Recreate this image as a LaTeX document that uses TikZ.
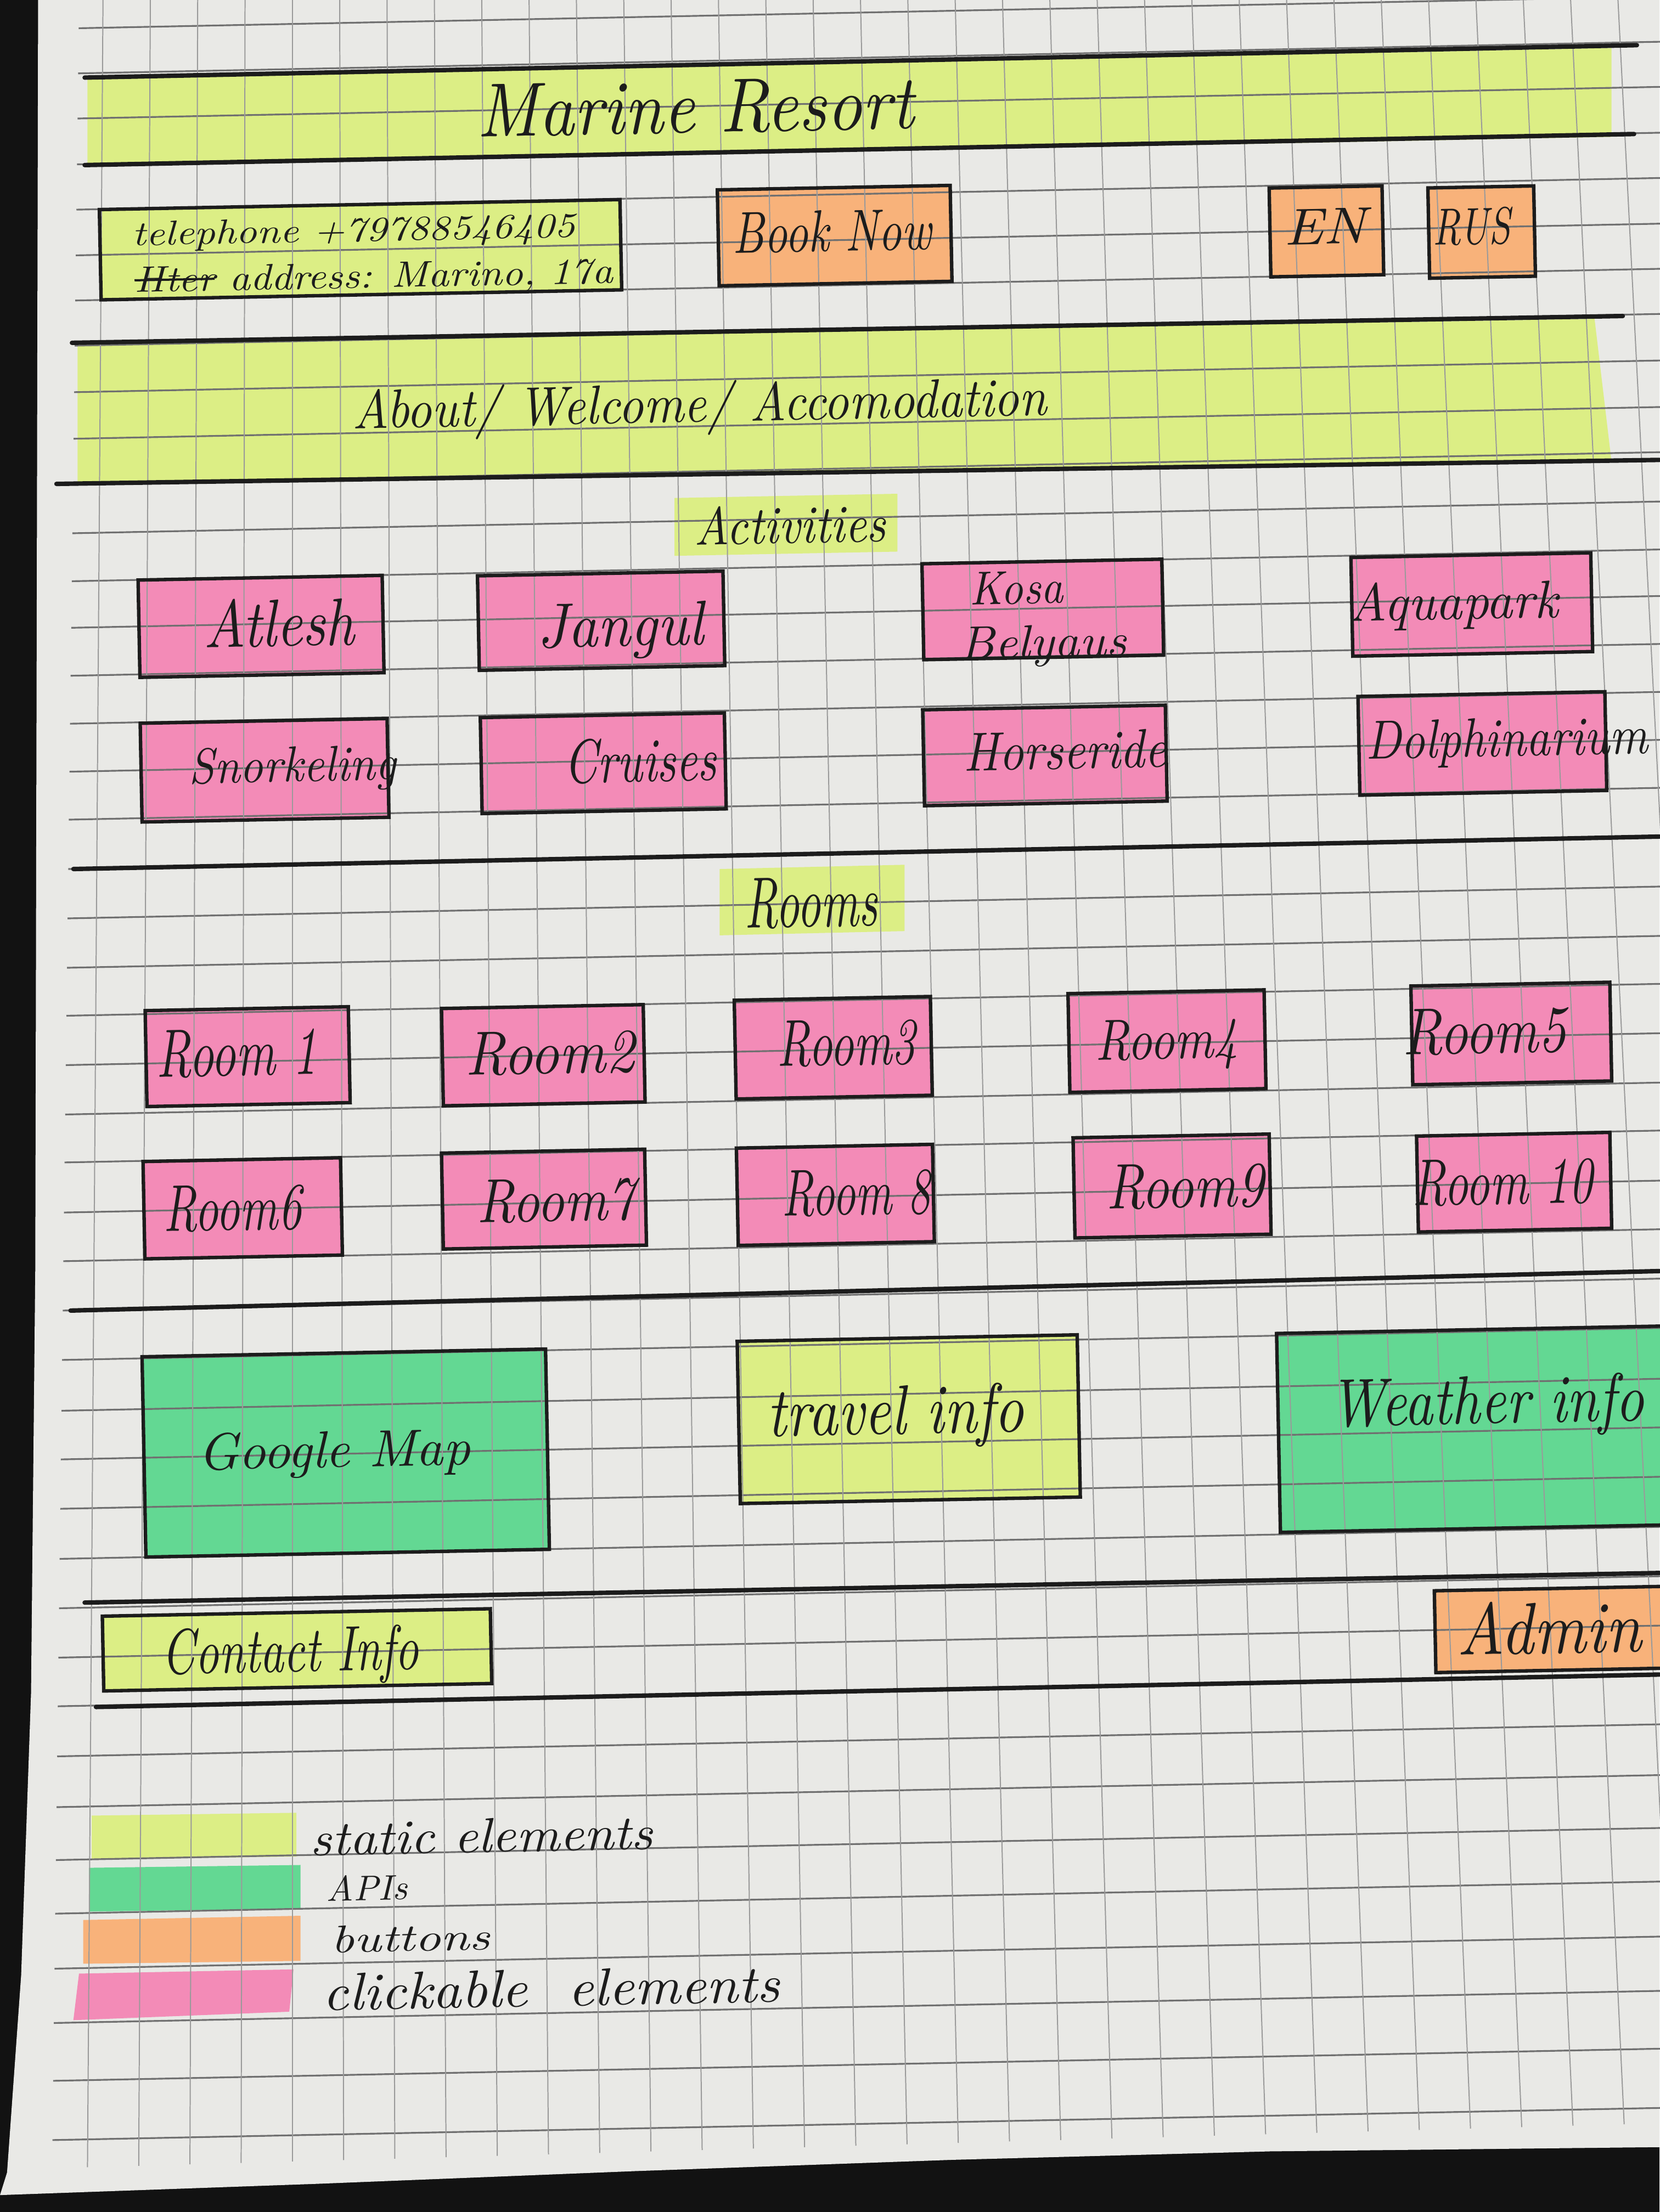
\documentclass[tikz,border=0pt]{standalone}
\usepackage{graphicx}

\definecolor{backdrop}{HTML}{121212}
\definecolor{paper}{HTML}{E9E9E6}
\definecolor{ink}{HTML}{1C1C1C}
\definecolor{gridhc}{HTML}{707070}
\definecolor{gridvc}{HTML}{9A9A9A}
\definecolor{hlyellow}{HTML}{DCEE85}
\definecolor{hlorange}{HTML}{F8B27A}
\definecolor{hlpink}{HTML}{F38BB7}
\definecolor{hlgreen}{HTML}{63D893}

\pgfdeclarelayer{paperlayer}
\pgfdeclarelayer{marker}
\pgfdeclarelayer{gridlayer}
\pgfsetlayers{paperlayer,marker,gridlayer,main}

% handwritten label: width and letter height in mm, then the text
\newcommand{\handtext}[3]{\resizebox{#1mm}{#2mm}{\itshape #3}}
% crossed-out word
\newlength{\struckwd}
\newcommand{\struck}[1]{\settowidth{\struckwd}{#1}\rlap{#1}\rule[0.3em]{\struckwd}{0.06em}}

\begin{document}
\begin{tikzpicture}[x=0.1mm,y=-0.1mm,
  every node/.append style={rotate=1.1},
  frame/.style={draw=ink, line width=0.7pt, inner sep=0pt, outer sep=0pt},
  hand/.style={inner sep=0pt, text=ink, anchor=base},
  pen/.style={draw=ink, line width=0.9pt, line cap=round},
  gridh/.style={draw=gridhc, line width=0.35pt},
  gridv/.style={draw=gridvc, line width=0.22pt}]

\useasboundingbox (0,0) rectangle (1176,1568);

% sheet of squared paper on a dark table
\begin{pgfonlayer}{paperlayer}
  \fill[backdrop] (0,0) rectangle (1176,1568);
  \fill[paper] (27,0) -- (1176,0) -- (1176,1522) -- (900,1525) -- (675,1531)
    -- (450,1539) -- (225,1548) -- (0,1556) -- (5,1540) -- (15,1400)
    -- (22,1200) -- (25,900) -- cycle;
\end{pgfonlayer}

% printed grid
\begin{pgfonlayer}{gridlayer}
  \foreach \y in {20,52,84,116.5,148.6,181,213,245,278,311,343,378,412,445,479,
                  513,547,581,616,651,686,720,755,790,824,859.5,894,929,964,1000,
                  1034.5,1069.5,1105,1140,1175,1209.5,1245,1281,1318.5,1356.5,
                  1395.5,1434,1475,1517}
    \draw[gridh] ({56-\y/1530*19},\y) -- (1180,{\y-0.02*(1124+\y/1530*19)});
  \foreach \k in {0,...,33}
    \draw[gridv] ({73+33.55*\k},0) -- ({62+36.3*\k},{1538-0.028*(62+36.3*\k)});
\end{pgfonlayer}

% marker bands and label highlights
\begin{pgfonlayer}{marker}
  \fill[hlyellow] (62,56) -- (1142,34) -- (1142,97) -- (62,118) -- cycle;
  \fill[hlyellow] (55,244) -- (1130,226) -- (1142,327) -- (55,342) -- cycle;
  \fill[hlyellow] (478,353) -- (636,350) -- (636,391) -- (478,394) -- cycle;
  \fill[hlyellow] (510,616) -- (641,613) -- (641,660) -- (510,663) -- cycle;
  % legend swatches
  \fill[hlyellow] (65,1287) -- (210,1285) -- (210,1316) -- (65,1318) -- cycle;
  \fill[hlgreen]  (63,1324) -- (213,1322) -- (213,1353) -- (63,1355) -- cycle;
  \fill[hlorange] (59,1361) -- (213,1358) -- (213,1390) -- (59,1392) -- cycle;
  \fill[hlpink]   (56,1399) -- (208,1396) -- (205,1426) -- (52,1432) -- cycle;
\end{pgfonlayer}

% section rules
\draw[pen] (60,55) -- (1160,32);
\draw[pen] (60,117) -- (1158,95);
\draw[pen] (51,243) -- (1150,224);
\draw[pen] (40,343) -- (1176,326);
\draw[pen] (52,616) -- (1176,593);
\draw[pen] (50,929) -- (1176,901);
\draw[pen] (60,1136) -- (1176,1115);
\draw[pen] (68,1210) -- (1176,1187);

% header
\node[frame, minimum width=36.9mm, minimum height=6.4mm] (contact) at (255.5,177) {};
\node[frame, minimum width=16.5mm, minimum height=6.8mm] (book) at (591.5,167) {};
\node[frame, minimum width=8.0mm, minimum height=6.3mm] (en) at (940,164) {};
\node[frame, minimum width=7.5mm, minimum height=6.4mm] (rus) at (1050,164.5) {};

% activities
\node[frame, minimum width=17.3mm, minimum height=6.9mm] (atlesh) at (185,444) {};
\node[frame, minimum width=17.4mm, minimum height=6.7mm] (jangul) at (426,440) {};
\node[frame, minimum width=17.0mm, minimum height=6.8mm] (kosa) at (739,432) {};
\node[frame, minimum width=17.0mm, minimum height=7.0mm] (aqua) at (1043,428.5) {};
\node[frame, minimum width=17.5mm, minimum height=7.0mm] (snork) at (187.5,546) {};
\node[frame, minimum width=17.3mm, minimum height=6.8mm] (cruises) at (427.5,541) {};
\node[frame, minimum width=17.2mm, minimum height=6.8mm] (horse) at (740.5,535.5) {};
\node[frame, minimum width=17.5mm, minimum height=7.0mm] (dolph) at (1050.5,527) {};

% rooms
\node[frame, minimum width=14.4mm, minimum height=6.8mm] (room1) at (175.5,749) {};
\node[frame, minimum width=14.3mm, minimum height=6.9mm] (room2) at (385,748) {};
\node[frame, minimum width=13.9mm, minimum height=7.0mm] (room3) at (590.5,742.7) {};
\node[frame, minimum width=13.9mm, minimum height=7.0mm] (room4) at (827,738) {};
\node[frame, minimum width=14.1mm, minimum height=7.0mm] (room5) at (1071,732.6) {};
\node[frame, minimum width=14.0mm, minimum height=6.9mm] (room6) at (172,856.5) {};
\node[frame, minimum width=14.4mm, minimum height=6.8mm] (room7) at (385.5,850) {};
\node[frame, minimum width=13.9mm, minimum height=6.9mm] (room8) at (592,847) {};
\node[frame, minimum width=13.9mm, minimum height=7.1mm] (room9) at (830.6,840.7) {};
\node[frame, minimum width=13.7mm, minimum height=6.8mm] (room10) at (1073,838) {};

% services
\node[frame, minimum width=28.6mm, minimum height=14.2mm] (google) at (245,1030) {};
\node[frame, minimum width=24.1mm, minimum height=11.5mm] (travel) at (644,1006) {};
\node[frame, minimum width=28.4mm, minimum height=14.1mm] (weather) at (1048,1013) {};

% footer
\node[frame, minimum width=27.5mm, minimum height=5.3mm] (contactinfo) at (210.5,1169.5) {};
\node[frame, minimum width=17.0mm, minimum height=5.8mm] (admin) at (1102,1155) {};

% marker fill inside the boxes
\begin{pgfonlayer}{marker}
  \foreach \b/\col in {contact/hlyellow, book/hlorange, en/hlorange, rus/hlorange,
      atlesh/hlpink, jangul/hlpink, kosa/hlpink, aqua/hlpink,
      snork/hlpink, cruises/hlpink, horse/hlpink, dolph/hlpink,
      room1/hlpink, room2/hlpink, room3/hlpink, room4/hlpink, room5/hlpink,
      room6/hlpink, room7/hlpink, room8/hlpink, room9/hlpink, room10/hlpink,
      google/hlgreen, travel/hlyellow, weather/hlgreen,
      contactinfo/hlyellow, admin/hlorange}
    \fill[\col] (\b.north west) -- (\b.north east) -- (\b.south east) -- (\b.south west) -- cycle;
\end{pgfonlayer}

% handwritten texts (placed on their baselines)
\node[hand] (tTitle) at (493,94) {\handtext{31.0}{3.7}{Marine Resort}};
\node[hand] (tPhone) at (251,171) {\handtext{31.4}{1.7}{telephone +79788546405}};
\node[hand] (tAddr) at (265,204) {\handtext{33.9}{1.8}{\struck{Hter} address: Marino, 17a}};
\node[hand] (tBook) at (590,178) {\handtext{14.1}{2.9}{Book Now}};
\node[hand] (tEN) at (939,173) {\handtext{5.8}{2.5}{EN}};
\node[hand] (tRUS) at (1043,173) {\handtext{5.5}{2.6}{RUS}};
\node[hand] (tNav) at (496,299) {\handtext{49.2}{2.9}{About/ Welcome/ Accomodation}};

\node[hand] (tAct) at (560,385) {\handtext{13.6}{2.7}{Activities}};
\node[hand] (tAtlesh) at (198,458) {\handtext{10.7}{3.4}{Atlesh}};
\node[hand] (tJangul) at (440,458) {\handtext{11.8}{3.1}{Jangul}};
\node[hand] (tKosa) at (720.5,428) {\handtext{6.6}{2.3}{Kosa}};
\node[hand] (tBelyaus) at (739.5,466) {\handtext{11.8}{2.3}{Belyaus}};
\node[hand] (tAqua) at (1030,439) {\handtext{14.9}{2.7}{Aquapark}};
\node[hand] (tSnork) at (207.5,554) {\handtext{14.7}{2.5}{Snorkeling}};
\node[hand] (tCruises) at (454,554) {\handtext{10.8}{3.1}{Cruises}};
\node[hand] (tHorse) at (755,545) {\handtext{14.4}{2.7}{Horseride}};
\node[hand] (tDolph) at (1068,536) {\handtext{20.0}{2.7}{Dolphinarium}};

\node[hand] (tRooms) at (575,657) {\handtext{9.4}{3.5}{Rooms}};
\node[hand] (tRoom1) at (168,762.5) {\handtext{11.4}{3.3}{Room 1}};
\node[hand] (tRoom2) at (390,761) {\handtext{12.0}{3.0}{Room2}};
\node[hand] (tRoom3) at (600,755) {\handtext{9.8}{3.2}{Room3}};
\node[hand] (tRoom4) at (827,750.5) {\handtext{10.1}{2.8}{Room4}};
\node[hand] (tRoom5) at (1052,746.5) {\handtext{11.6}{3.2}{Room5}};
\node[hand] (tRoom6) at (165,872) {\handtext{9.8}{3.2}{Room6}};
\node[hand] (tRoom7) at (394,865.5) {\handtext{11.2}{3.0}{Room7}};
\node[hand] (tRoom8) at (607,861) {\handtext{10.5}{3.2}{Room 8}};
\node[hand] (tRoom9) at (840,856) {\handtext{11.2}{3.1}{Room9}};
\node[hand] (tRoom10) at (1065,853.5) {\handtext{12.8}{3.2}{Room 10}};

\node[hand] (tGoogle) at (237,1040) {\handtext{19.3}{2.6}{Google Map}};
\node[hand] (tTravel) at (635,1016.5) {\handtext{18.2}{3.5}{travel info}};
\node[hand] (tWeather) at (1054,1009) {\handtext{22.3}{3.4}{Weather info}};
\node[hand] (tContact) at (206,1185) {\handtext{18.2}{3.2}{Contact Info}};
\node[hand] (tAdmin) at (1098,1172) {\handtext{13.1}{3.7}{Admin}};

% legend
\node[hand] (tStatic) at (341.5,1313) {\handtext{24.3}{2.4}{static elements}};
\node[hand] (tAPI) at (260,1347) {\handtext{5.8}{1.8}{APIs}};
\node[hand] (tButtons) at (291,1383) {\handtext{11.3}{1.9}{buttons}};
\node[hand] (tClick) at (391,1422) {\handtext{32.4}{2.6}{clickable\ \ elements}};

\end{tikzpicture}
\end{document}
